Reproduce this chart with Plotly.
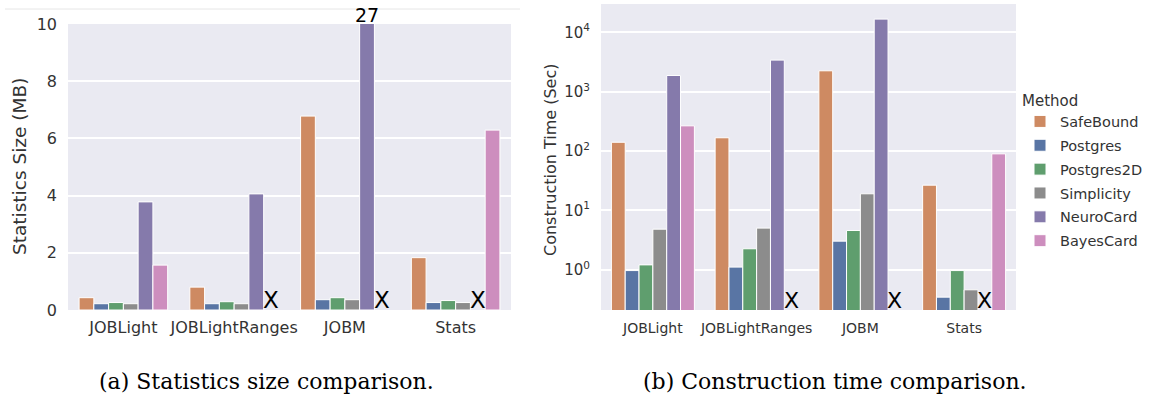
import math
import plotly.graph_objects as go

datasets = ["JOBLight", "JOBLightRanges", "JOBM", "Stats"]
methods = ["SafeBound", "Postgres", "Postgres2D", "Simplicity", "NeuroCard", "BayesCard"]
colors = ["#CE8A62", "#5975A4", "#5F9E6E", "#8C8C8C", "#857AAB", "#CD8EBE"]

# Statistics size (MB); None = not available (X)
size_safebound = [0.43, 0.80, 6.78, 1.83]
size_postgres = [0.22, 0.22, 0.36, 0.26]
size_postgres2d = [0.26, 0.29, 0.43, 0.33]
size_simplicity = [0.22, 0.22, 0.36, 0.26]
size_neurocard = [3.78, 4.06, 27.0, None]
size_bayescard = [1.57, None, None, 6.29]

# Construction time (sec); None = not available (X)
time_safebound = [141, 168, 2260, 26.7]
time_postgres = [0.97, 1.11, 3.04, 0.346]
time_postgres2d = [1.21, 2.26, 4.6, 0.97]
time_simplicity = [4.84, 5.04, 19.1, 0.46]
time_neurocard = [1885, 3420, 16800, None]
time_bayescard = [267, None, None, 90]

size_series = [size_safebound, size_postgres, size_postgres2d, size_simplicity, size_neurocard, size_bayescard]
time_series = [time_safebound, time_postgres, time_postgres2d, time_simplicity, time_neurocard, time_bayescard]

SIZE_MAX = 10
TIME_RANGE = [0.21, 30200]

W, H = 1154, 403
BG = "#EAEAF2"
TXT = "#333333"

fig = go.Figure()
xs = list(range(len(datasets)))

for i, m in enumerate(methods):
    fig.add_trace(go.Bar(x=xs, y=size_series[i], name=m, marker_color=colors[i],
                         marker_line=dict(color="white", width=1),
                         xaxis="x", yaxis="y", offsetgroup=str(i), legendgroup=m, showlegend=True))
for i, m in enumerate(methods):
    fig.add_trace(go.Bar(x=xs, y=time_series[i], name=m, marker_color=colors[i],
                         marker_line=dict(color="white", width=1),
                         xaxis="x2", yaxis="y2", offsetgroup=str(i), legendgroup=m, showlegend=False))

n = len(methods)
group_w = 0.8
bw = group_w / n

def pos(ci, mi):
    return ci - group_w / 2 + bw * (mi + 0.5)

ann = []
for (series, xr, yr, fs) in [(size_series, "x", "y", 23), (time_series, "x2", "y2", 22)]:
    for mi, s in enumerate(series):
        for ci, v in enumerate(s):
            if v is None:
                ann.append(dict(x=pos(ci, mi), y=0, xref=xr, yref=yr + " domain", text="X",
                                showarrow=False, yanchor="bottom", yshift=-5,
                                font=dict(size=fs, color="black", family="DejaVu Sans")))
# clipped bar label
for mi, s in enumerate(size_series):
    for ci, v in enumerate(s):
        if v is not None and v > SIZE_MAX:
            ann.append(dict(x=pos(ci, mi), y=SIZE_MAX, xref="x", yref="y", text=f"{v:g}",
                            showarrow=False, yanchor="bottom", yshift=-4,
                            font=dict(size=19, color="black", family="DejaVu Sans")))

# axis titles and captions
ann.append(dict(x=19 / W, y=(403 - 167) / H, xref="paper", yref="paper", text="Statistics Size (MB)",
                textangle=-90, showarrow=False, font=dict(size=18.5, color=TXT, family="DejaVu Sans"),
                xanchor="center", yanchor="middle"))
ann.append(dict(x=550 / W, y=(403 - 160) / H, xref="paper", yref="paper", text="Construction Time (Sec)",
                textangle=-90, showarrow=False, font=dict(size=16, color=TXT, family="DejaVu Sans"),
                xanchor="center", yanchor="middle"))
ann.append(dict(x=266 / W, y=(403 - 381) / H, xref="paper", yref="paper", text="(a) Statistics size comparison.",
                showarrow=False, font=dict(size=22, color="black", family="DejaVu Serif"),
                xanchor="center", yanchor="middle"))
ann.append(dict(x=835 / W, y=(403 - 381) / H, xref="paper", yref="paper", text="(b) Construction time comparison.",
                showarrow=False, font=dict(size=22, color="black", family="DejaVu Serif"),
                xanchor="center", yanchor="middle"))

tick_exps = [0, 1, 2, 3, 4]

fig.update_layout(
    width=W, height=H, margin=dict(l=0, r=0, t=0, b=0, pad=0, autoexpand=False),
    paper_bgcolor="white", plot_bgcolor=BG,
    barmode="group", bargap=0.2, bargroupgap=0,
    font=dict(family="DejaVu Sans", color=TXT),
    xaxis=dict(domain=[68 / W, 511 / W], range=[-0.5, 3.5], tickvals=xs, ticktext=datasets, automargin=False,
               showgrid=False, zeroline=False, tickfont=dict(size=16, color=TXT), ticks="", ticklabelstandoff=6),
    yaxis=dict(domain=[93 / H, 379 / H], range=[0, SIZE_MAX], anchor="x", tickvals=[0, 2, 4, 6, 8, 10],
               gridcolor="white", gridwidth=1.5, zeroline=False, tickfont=dict(size=16, color=TXT), automargin=False,
               ticks="", ticklabelstandoff=10),
    xaxis2=dict(domain=[601 / W, 1016 / W], range=[-0.5, 3.5], tickvals=xs, ticktext=datasets, anchor="y2",
                automargin=False,
                showgrid=False, zeroline=False, tickfont=dict(size=14, color=TXT), ticks="", ticklabelstandoff=8),
    yaxis2=dict(domain=[93 / H, 399 / H], type="log", range=[math.log10(TIME_RANGE[0]), math.log10(TIME_RANGE[1])],
                anchor="x2", tickvals=[10 ** e for e in tick_exps], automargin=False,
                ticktext=[f"10<sup>{e}</sup>" for e in tick_exps],
                gridcolor="white", gridwidth=1.5, zeroline=False, tickfont=dict(size=15, color=TXT),
                ticks="", ticklabelstandoff=10),
    legend=dict(title=dict(text="Method", font=dict(size=15, color=TXT)), x=1020 / W, xanchor="left",
                y=(403 - 86) / H, yanchor="top", font=dict(size=14.5, color=TXT), bgcolor="rgba(0,0,0,0)",
                tracegroupgap=2),
    annotations=ann,
    shapes=[dict(type="line", xref="paper", yref="paper", x0=5 / W, x1=520 / W, y0=(403 - 9) / H, y1=(403 - 9) / H,
                 line=dict(color="#e6e6e6", width=1))],
)

fig.write_html("out.html")
